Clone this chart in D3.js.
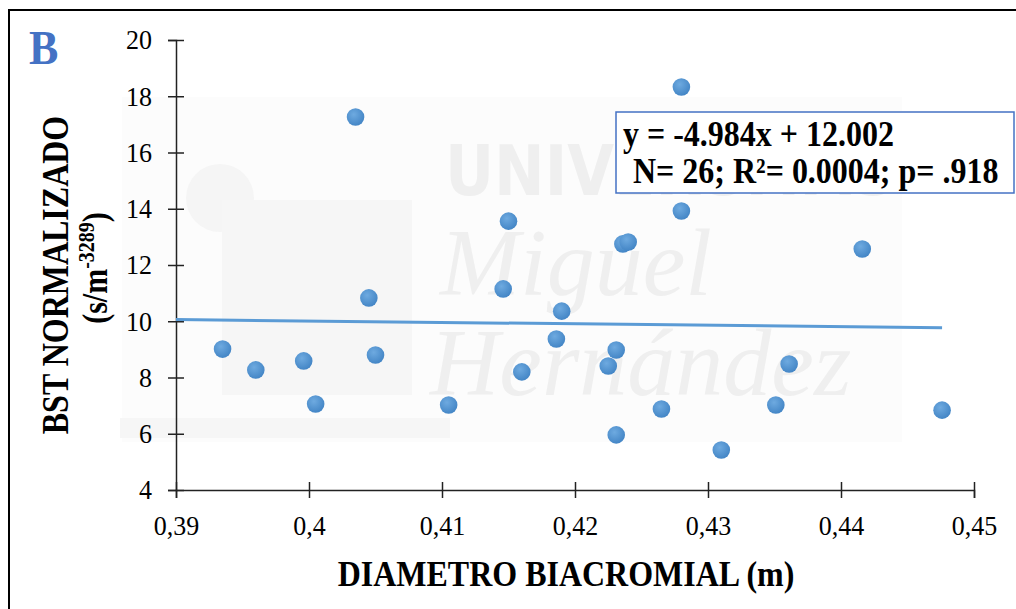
<!DOCTYPE html>
<html>
<head>
<meta charset="utf-8">
<script src="https://cdn.jsdelivr.net/npm/d3@7"></script>
<style>
  body { margin: 0; background: #fff; }
  text { font-family: "Liberation Serif", "Times New Roman", serif; }
</style>
</head>
<body>
<div id="chart"></div>
<script>
// diametro biacromial (m)
const diametro = [0.3935, 0.3960, 0.3996, 0.4005, 0.4035, 0.4045, 0.4050, 0.4105, 0.4146, 0.4150,
                  0.4160, 0.4186, 0.4190, 0.4225, 0.4231, 0.4231, 0.4236, 0.4240, 0.4265, 0.4280,
                  0.4280, 0.4310, 0.4351, 0.4361, 0.4416, 0.4476];
// BST normalizado
const bst = [9.01, 8.27, 8.59, 7.06, 17.26, 10.83, 8.80, 7.02, 11.15, 13.56,
             8.20, 9.37, 10.36, 8.41, 8.98, 5.96, 12.75, 12.82, 6.88, 18.33,
             13.92, 5.42, 7.02, 8.48, 12.57, 6.84];

const xTicks = [0.39, 0.40, 0.41, 0.42, 0.43, 0.44, 0.45];
const yTicks = [4, 6, 8, 10, 12, 14, 16, 18, 20];

// trendline
const slope = -4.984, intercept = 12.002;
const trendRange = [0.39, 0.4476];

const W = 1016, H = 609;
const margin = {top: 40, right: 42, bottom: 119, left: 176};
const width = W - margin.left - margin.right;
const height = H - margin.top - margin.bottom;

const svg = d3.select("#chart").append("svg")
    .attr("width", W)
    .attr("height", H);

// text stretched a little vertically, like the original
function tallText(parent, px, py, sy) {
    return parent.append("text")
        .attr("transform", "translate(" + px + "," + py + ") scale(1," + sy + ")");
}

// outer frame
svg.append("rect")
    .attr("x", 9).attr("y", 10)
    .attr("width", 1030).attr("height", 620)
    .attr("fill", "#fff")
    .attr("stroke", "#000")
    .attr("stroke-width", 2);

// faint watermark
const wm = svg.append("g").attr("class", "watermark");
wm.append("rect").attr("x", 122).attr("y", 97).attr("width", 780).attr("height", 345).attr("fill", "#fcfcfc");
wm.append("rect").attr("x", 120).attr("y", 418).attr("width", 330).attr("height", 20).attr("fill", "#f6f6f6");
wm.append("circle").attr("cx", 220).attr("cy", 198).attr("r", 34).attr("fill", "#f5f5f5");
wm.append("rect").attr("x", 222).attr("y", 200).attr("width", 190).attr("height", 195).attr("fill", "#f6f6f6");
wm.append("text").attr("x", 445).attr("y", 195)
    .style("font-family", "'DejaVu Sans', sans-serif").style("font-weight", "bold")
    .attr("font-size", 70).attr("textLength", 450).attr("lengthAdjust", "spacingAndGlyphs")
    .attr("fill", "#efefef").text("UNIVERSITAS");
wm.append("text").attr("x", 440).attr("y", 295)
    .style("font-style", "italic").attr("font-size", 96).attr("fill", "#efefef").text("Miguel");
wm.append("text").attr("x", 430).attr("y", 395)
    .style("font-style", "italic").attr("font-size", 96).attr("fill", "#efefef").text("Hernández");

const g = svg.append("g")
    .attr("transform", "translate(" + margin.left + "," + margin.top + ")");

// scales
const x = d3.scaleLinear().domain([0.39, 0.45]).range([0, width]);
const y = d3.scaleLinear().domain([4, 20]).range([height, 0]);

// y axis
const yAxis = g.append("g")
    .call(d3.axisLeft(y).tickValues(yTicks).tickSize(8).tickPadding(14).tickFormat(d3.format("d")));
yAxis.selectAll(".tick line").attr("x2", 8).attr("x1", -8);
yAxis.selectAll("text")
    .attr("font-size", 26)
    .attr("fill", "#000")
    .style("font-family", "'Liberation Serif', serif")
    .attr("x", -24)
    .attr("transform", "scale(1,1.08)");

// x axis
const xAxis = g.append("g")
    .attr("transform", "translate(0," + height + ")")
    .call(d3.axisBottom(x).tickValues(xTicks).tickSize(8).tickPadding(14)
        .tickFormat(d => d3.format(".2~f")(d).replace(".", ",")));
xAxis.selectAll(".tick line").attr("y1", -8).attr("y2", 8);
xAxis.selectAll("text")
    .attr("font-size", 26)
    .attr("fill", "#000")
    .style("font-family", "'Liberation Serif', serif")
    .attr("y", 23)
    .attr("transform", "scale(1,1.08)");

svg.selectAll(".domain, .tick line").attr("stroke", "#222").attr("stroke-width", 1.5);

// gradient for dots
const grad = svg.append("defs").append("radialGradient")
    .attr("id", "dotGrad").attr("cx", "40%").attr("cy", "35%").attr("r", "65%");
grad.append("stop").attr("offset", "0%").attr("stop-color", "#6eaae0");
grad.append("stop").attr("offset", "100%").attr("stop-color", "#4486c6");

// trendline
g.append("line")
    .attr("x1", x(trendRange[0])).attr("y1", y(slope * trendRange[0] + intercept))
    .attr("x2", x(trendRange[1])).attr("y2", y(slope * trendRange[1] + intercept))
    .attr("stroke", "#5b9bd5")
    .attr("stroke-width", 3);

// points
g.selectAll(".dot")
    .data(diametro.map((d, i) => [d, bst[i]]))
    .enter()
    .append("circle")
    .attr("class", "dot")
    .attr("cx", d => x(d[0]))
    .attr("cy", d => y(d[1]))
    .attr("r", 8.8)
    .attr("fill", "url(#dotGrad)");

// equation box
svg.append("rect")
    .attr("x", 616).attr("y", 112)
    .attr("width", 398).attr("height", 81)
    .attr("fill", "#fff")
    .attr("stroke", "#4472c4")
    .attr("stroke-width", 1.5);
tallText(svg, 623, 146, 1.1)
    .attr("font-size", 32).attr("font-weight", "bold")
    .text("y = -4.984x + 12.002");
tallText(svg, 633, 183, 1.1)
    .attr("font-size", 32).attr("font-weight", "bold")
    .text("N= 26; R²= 0.0004; p= .918");

// panel letter
tallText(svg, 29, 64, 1.08)
    .attr("font-size", 44).attr("font-weight", "bold")
    .attr("fill", "#4472c4")
    .text("B");

// x axis title
tallText(svg, 566, 586, 1.15)
    .attr("text-anchor", "middle")
    .attr("font-size", 32).attr("font-weight", "bold")
    .text("DIAMETRO BIACROMIAL (m)");

// y axis title
svg.append("text")
    .attr("transform", "translate(68,275) rotate(-90) scale(1,1.16)")
    .attr("text-anchor", "middle")
    .attr("font-size", 32).attr("font-weight", "bold")
    .text("BST NORMALIZADO");
const unit = svg.append("text")
    .attr("transform", "translate(107,268) rotate(-90) scale(1,1.2)")
    .attr("text-anchor", "middle")
    .attr("font-size", 30).attr("font-weight", "bold");
unit.append("tspan").text("(s/m");
unit.append("tspan").attr("font-size", 20).attr("dy", -11).text("-3289");
unit.append("tspan").attr("dy", 11).text(")");
</script>
</body>
</html>
